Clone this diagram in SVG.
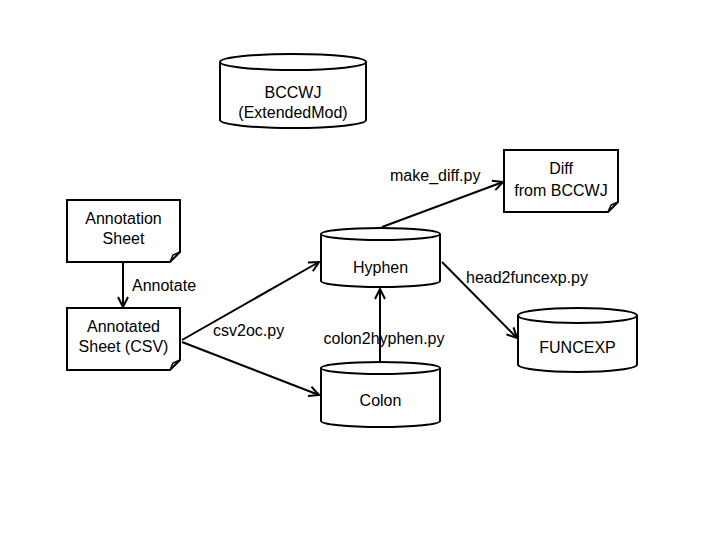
<svg xmlns="http://www.w3.org/2000/svg" width="720" height="540" viewBox="0 0 720 540">
<defs>
<marker id="arr" viewBox="0 0 12 12" refX="11" refY="6" markerWidth="12" markerHeight="12" markerUnits="userSpaceOnUse" orient="auto">
<polyline points="1,1 11,6 1,11" fill="none" stroke="#000" stroke-width="2"/>
</marker>
<style>
.s{fill:#fff;stroke:#000;stroke-width:2}
.f{fill:none;stroke:#000;stroke-width:1.5}
.e{stroke:#000;stroke-width:2;fill:none;marker-end:url(#arr)}
text{font-family:"Liberation Sans",Arial,sans-serif;font-size:16px;fill:#000}
.c{text-anchor:middle}
</style>
</defs>
<rect width="720" height="540" fill="#fff"/>
<g id="connectors">
<line class="e" x1="123" y1="262" x2="123" y2="307"/>
<line class="e" x1="182" y1="340" x2="319" y2="262"/>
<line class="e" x1="182" y1="342" x2="319" y2="395"/>
<line class="e" x1="380" y1="362" x2="380" y2="289"/>
<line class="e" x1="382" y1="227" x2="503" y2="182"/>
<line class="e" x1="442" y1="262" x2="517" y2="338"/>
<text x="132" y="291">Annotate</text>
<text x="213" y="336">csv2oc.py</text>
<text x="384" y="344" class="c">colon2hyphen.py</text>
<text x="390" y="181">make_diff.py</text>
<text x="466" y="283">head2funcexp.py</text>
</g>
<g id="bccwj">
<path class="s" d="M220,62 V120 A73,8 0 0 0 366,120 V62"/>
<ellipse class="s" cx="293" cy="62" rx="73" ry="8"/>
<text x="293" y="98" class="c">BCCWJ</text>
<text x="293" y="118" class="c">(ExtendedMod)</text>
</g>
<g id="annotation-sheet">
<path class="s" d="M67,200 H180 V252 L170,262 H67 Z"/>
<path class="f" d="M170,262 L173,255 L180,252"/>
<text x="123.5" y="224" class="c">Annotation</text>
<text x="123.5" y="244" class="c">Sheet</text>
</g>
<g id="annotated-sheet">
<path class="s" d="M67,308 H180 V360 L170,370 H67 Z"/>
<path class="f" d="M170,370 L173,363 L180,360"/>
<text x="123.5" y="332" class="c">Annotated</text>
<text x="123.5" y="352" class="c">Sheet (CSV)</text>
</g>
<g id="diff">
<path class="s" d="M504,150 H618 V202 L608,212 H504 Z"/>
<path class="f" d="M608,212 L611,205 L618,202"/>
<text x="561" y="174" class="c">Diff</text>
<text x="561" y="196" class="c">from BCCWJ</text>
</g>
<g id="hyphen">
<path class="s" d="M321,234 V281 A59.5,6 0 0 0 440,281 V234"/>
<ellipse class="s" cx="380.5" cy="234" rx="59.5" ry="6"/>
<text x="380.5" y="273" class="c">Hyphen</text>
</g>
<g id="colon">
<path class="s" d="M321,368 V421 A59.5,6 0 0 0 440,421 V368"/>
<ellipse class="s" cx="380.5" cy="368" rx="59.5" ry="6"/>
<text x="380.5" y="406" class="c">Colon</text>
</g>
<g id="funcexp">
<path class="s" d="M518,315.5 V364.5 A59.5,7.5 0 0 0 637,364.5 V315.5"/>
<ellipse class="s" cx="577.5" cy="315.5" rx="59.5" ry="7.5"/>
<text x="577.5" y="353" class="c">FUNCEXP</text>
</g>
</svg>
